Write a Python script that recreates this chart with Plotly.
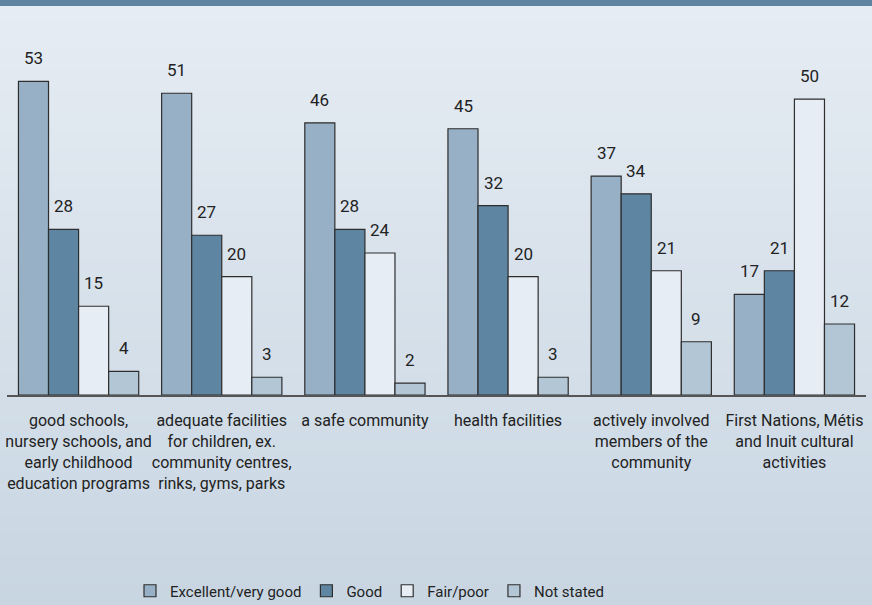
import plotly.graph_objects as go

categories = [
    "good schools,<br>nursery schools, and<br>early childhood<br>education programs",
    "adequate facilities<br>for children, ex.<br>community centres,<br>rinks, gyms, parks",
    "a safe community",
    "health facilities",
    "actively involved<br>members of the<br>community",
    "First Nations, Métis<br>and Inuit cultural<br>activities",
]
series_names = ["Excellent/very good", "Good", "Fair/poor", "Not stated"]
excellent = [53, 51, 46, 45, 37, 17]
good = [28, 27, 28, 32, 34, 21]
fair = [15, 20, 24, 20, 21, 50]
not_stated = [4, 3, 2, 3, 9, 12]
values = [excellent, good, fair, not_stated]
colors = ["#97b0c5", "#5e86a2", "#e7edf4", "#b2c6d6"]

FONT = "Roboto, Lato, sans-serif"
W, H = 872, 605
L, R, T, B = 7, 6, 40, 210
PW, PH = W - L - R, H - T - B

def px_to_py(py):
    return (H - B - py) / PH

fig = go.Figure()
for name, vals, col in zip(series_names, values, colors):
    fig.add_trace(go.Bar(
        x=categories, y=vals, name=name,
        marker=dict(color=col, line=dict(color="#2e2e2e", width=1.2)),
        hoverinfo="y",
    ))

# background gradient strips
top = (230, 236, 243)
bot = (200, 214, 226)
n = 60
for i in range(n):
    f = i / (n - 1)
    c = tuple(round(top[k] + (bot[k] - top[k]) * f) for k in range(3))
    y1 = px_to_py(i * H / n - 1)
    y0 = px_to_py((i + 1) * H / n + (20 if i == n - 1 else 0))
    fig.add_shape(type="rect", xref="paper", yref="paper", layer="below",
                  x0=-L / PW - 0.01, x1=1 + R / PW + 0.01, y0=y0, y1=y1,
                  fillcolor="rgb(%d,%d,%d)" % c, line=dict(width=0))
# top band
fig.add_shape(type="rect", xref="paper", yref="paper", layer="above",
              x0=-L / PW - 0.01, x1=1 + R / PW + 0.01,
              y0=px_to_py(6), y1=px_to_py(-10),
              fillcolor="#5e84a0", line=dict(width=0))

# value labels
barw = 30
for si, vals in enumerate(values):
    for ci, v in enumerate(vals):
        fig.add_annotation(x=categories[ci], y=v, text=str(v), showarrow=False,
                           xref="x", yref="y", yanchor="bottom",
                           xshift=(si - 1.5) * barw, yshift=11,
                           font=dict(family=FONT, size=17, color="#222222"))

fig.update_layout(
    width=W, height=H,
    margin=dict(l=L, r=R, t=T, b=B, autoexpand=False),
    barmode="group", bargap=0.16, bargroupgap=0,
    paper_bgcolor="#c8d6e2", plot_bgcolor="rgba(0,0,0,0)",
    font=dict(family=FONT, size=16, color="#222222"),
    showlegend=True,
    legend=dict(orientation="h", x=(130 - L) / PW, xanchor="left", y=px_to_py(591), yanchor="middle",
                bgcolor="rgba(0,0,0,0)", font=dict(family=FONT, size=15, color="#222222"),
                itemclick=False, itemwidth=30),
    xaxis=dict(showline=True, linecolor="#555555", linewidth=2, ticks="", tickangle=0,
               ticklabelstandoff=10,
               tickfont=dict(family=FONT, size=16, color="#222222"), fixedrange=True),
    yaxis=dict(range=[0, 60], visible=False, showgrid=False, fixedrange=True),
)
fig.write_html("out.html")
